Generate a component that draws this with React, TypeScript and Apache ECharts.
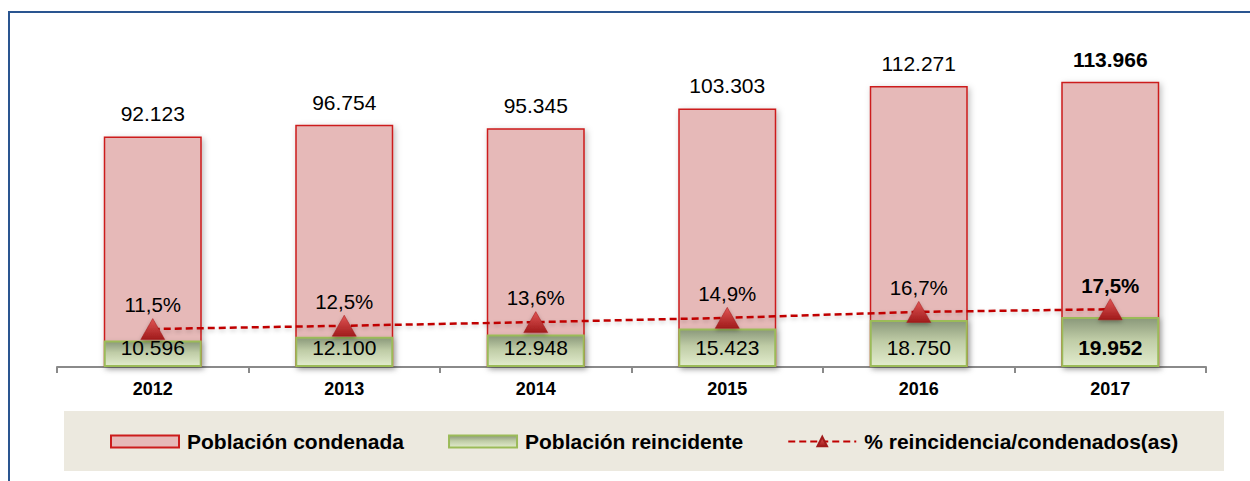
import React, { useEffect, useRef } from "react";
import * as echarts from "echarts";

const categories = ["2012", "2013", "2014", "2015", "2016", "2017"];
const condenada = [92123, 96754, 95345, 103303, 112271, 113966];
const reincidente = [10596, 12100, 12948, 15423, 18750, 19952];
const porcentaje = [11.5, 12.5, 13.6, 14.9, 16.7, 17.5];

const seriesNames = [
  "Población condenada",
  "Población reincidente",
  "% reincidencia/condenados(as)",
];

const FONT = 'Arial, "Liberation Sans", sans-serif';

const fmtThousands = (n: number) =>
  String(n).replace(/\B(?=(\d{3})+(?!\d))/g, ".");
const fmtPct = (v: number) => v.toFixed(1).replace(".", ",") + "%";

export default function App() {
  const ref = useRef<HTMLDivElement>(null);

  useEffect(() => {
    if (!ref.current) return;
    const chart = echarts.init(ref.current, null, { renderer: "svg" });
    const last = categories.length - 1;

    const boldIfLast = (i: number) => (i === last ? "bold" : "normal");

    const option = {
      animation: false,
      backgroundColor: "#ffffff",
      grid: { left: 57, right: 44, top: 20, bottom: 114, containLabel: false },
      graphic: [
        {
          type: "rect",
          shape: { x: 9, y: 12, width: 1300, height: 500 },
          style: { fill: "none", stroke: "#2A5590", lineWidth: 2 },
          z: 0,
        },
        {
          type: "rect",
          shape: { x: 64, y: 411, width: 1160, height: 60 },
          style: { fill: "#ECE9DF" },
          z: 0,
        },
      ],
      legend: {
        left: 110,
        top: 431,
        padding: 0,
        itemWidth: 68,
        itemHeight: 12,
        itemGap: 44,
        textStyle: {
          fontFamily: FONT,
          fontSize: 21,
          fontWeight: "bold",
          color: "#000",
          padding: [0, 0, 0, 3],
        },
        data: [
          { name: seriesNames[0], icon: "rect" },
          { name: seriesNames[1], icon: "rect" },
          { name: seriesNames[2] },
        ],
      },
      xAxis: {
        type: "category",
        data: categories,
        boundaryGap: true,
        axisLine: { show: true, lineStyle: { color: "#8A8A8A", width: 2 } },
        axisTick: { show: true, length: 6, lineStyle: { color: "#8A8A8A", width: 2 } },
        axisLabel: {
          margin: 13,
          fontFamily: FONT,
          fontSize: 18,
          fontWeight: "bold",
          color: "#000",
        },
        splitLine: { show: false },
      },
      yAxis: [
        { type: "value", min: 0, max: 138634, show: false, splitLine: { show: false } },
        { type: "value", min: 0, max: 105.15, show: false, splitLine: { show: false } },
      ],
      series: [
        {
          name: seriesNames[0],
          type: "bar",
          yAxisIndex: 0,
          barWidth: 98,
          barGap: "-100%",
          itemStyle: {
            color: "#E6B9B8",
            borderColor: "#CC1C1C",
            borderWidth: 1.5,
            shadowColor: "rgba(0,0,0,0.25)",
            shadowBlur: 6,
            shadowOffsetX: 2,
            shadowOffsetY: 2,
          },
          label: {
            show: true,
            position: "top",
            distance: 12,
            fontFamily: FONT,
            fontSize: 21,
            color: "#000",
            formatter: (p: any) => fmtThousands(p.value),
          },
          data: condenada.map((v, i) => ({
            value: v,
            label: { fontWeight: boldIfLast(i) },
          })),
          z: 2,
        },
        {
          name: seriesNames[1],
          type: "bar",
          yAxisIndex: 0,
          barWidth: 98,
          barGap: "-100%",
          itemStyle: {
            color: new echarts.graphic.LinearGradient(0, 0, 0, 1, [
              { offset: 0, color: "#8A987A" },
              { offset: 0.45, color: "#BFCCA6" },
              { offset: 1, color: "#E2ECCD" },
            ]),
            borderColor: "#9BBB59",
            borderWidth: 2,
            shadowColor: "rgba(0,0,0,0.2)",
            shadowBlur: 5,
            shadowOffsetX: 2,
            shadowOffsetY: 2,
          },
          label: {
            show: true,
            position: "insideBottom",
            distance: 9,
            fontFamily: FONT,
            fontSize: 21,
            color: "#000",
            formatter: (p: any) => fmtThousands(p.value),
          },
          data: reincidente.map((v, i) => ({
            value: v,
            label: { fontWeight: boldIfLast(i) },
          })),
          z: 3,
        },
        {
          name: seriesNames[2],
          type: "line",
          yAxisIndex: 1,
          symbol: "triangle",
          symbolSize: [24, 21],
          lineStyle: {
            color: "#C00000",
            width: 2.5,
            type: [7, 4],
            shadowColor: "rgba(0,0,0,0.2)",
            shadowBlur: 4,
            shadowOffsetY: 2,
          },
          itemStyle: {
            color: new echarts.graphic.LinearGradient(0, 0, 0, 1, [
              { offset: 0, color: "#E05454" },
              { offset: 1, color: "#A01B1B" },
            ]),
            borderColor: "#A01B1B",
            borderWidth: 0.5,
            shadowColor: "rgba(0,0,0,0.3)",
            shadowBlur: 4,
            shadowOffsetY: 2,
          },
          label: {
            show: true,
            position: "top",
            distance: 3,
            fontFamily: FONT,
            fontSize: 20.5,
            color: "#000",
            formatter: (p: any) => fmtPct(p.value),
          },
          data: porcentaje.map((v, i) => ({
            value: v,
            label: { fontWeight: boldIfLast(i) },
          })),
          z: 5,
        },
      ],
    };

    chart.setOption(option as any);
    return () => {
      chart.dispose();
    };
  }, []);

  return (
    <div
      ref={ref}
      style={{ position: "fixed", left: 0, top: 0, width: 1250, height: 481 }}
    />
  );
}
